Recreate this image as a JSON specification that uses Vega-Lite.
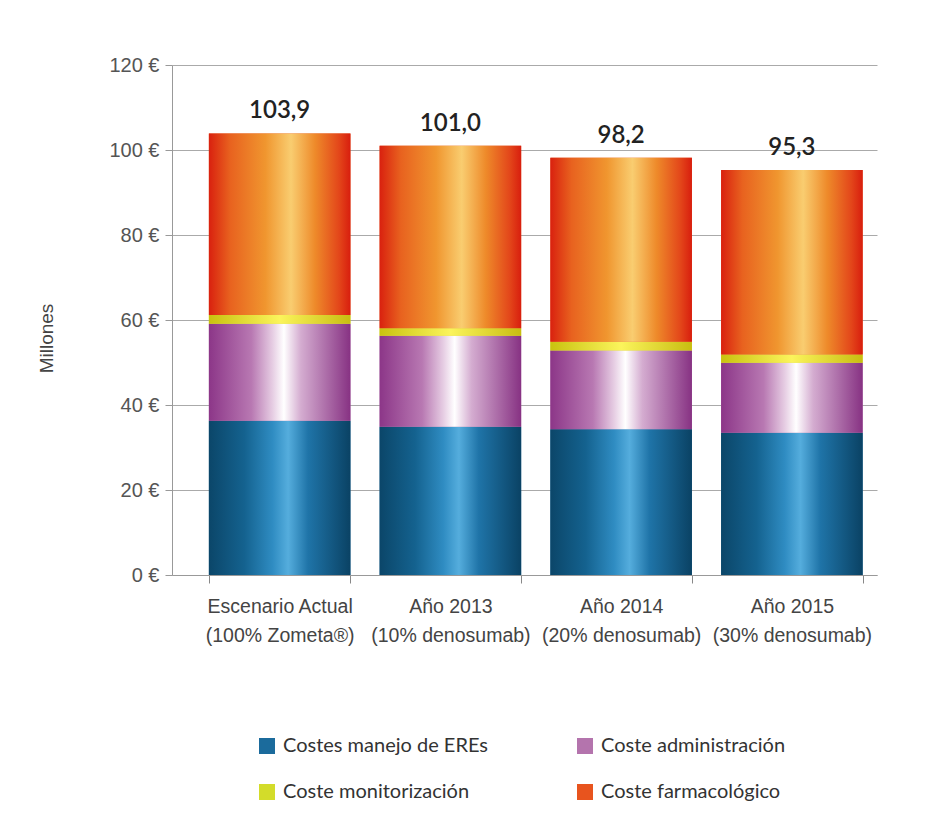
{
  "$schema": "https://vega.github.io/schema/vega-lite/v6.json",
  "autosize": {"type": "none"},
  "width": 705,
  "height": 510,
  "padding": {"left": 172, "top": 65, "right": 68, "bottom": 262},
  "background": "#ffffff",
  "config": {
    "locale": {"number": {"decimal": ",", "thousands": ".", "grouping": [3], "currency": ["", " €"]}},
    "view": {"stroke": null},
    "axis": {"labelFont": "Liberation Sans", "titleFont": "Liberation Sans"}
  },
  "data": {
    "values": [
      {"escenario": "Escenario Actual|(100% Zometa®)", "componente": "Costes manejo de EREs", "orden": 1, "valor": 36.3},
      {"escenario": "Escenario Actual|(100% Zometa®)", "componente": "Coste administración", "orden": 2, "valor": 22.8},
      {"escenario": "Escenario Actual|(100% Zometa®)", "componente": "Coste monitorización", "orden": 3, "valor": 2.1},
      {"escenario": "Escenario Actual|(100% Zometa®)", "componente": "Coste farmacológico", "orden": 4, "valor": 42.7},
      {"escenario": "Año 2013|(10% denosumab)", "componente": "Costes manejo de EREs", "orden": 1, "valor": 34.9},
      {"escenario": "Año 2013|(10% denosumab)", "componente": "Coste administración", "orden": 2, "valor": 21.4},
      {"escenario": "Año 2013|(10% denosumab)", "componente": "Coste monitorización", "orden": 3, "valor": 1.75},
      {"escenario": "Año 2013|(10% denosumab)", "componente": "Coste farmacológico", "orden": 4, "valor": 42.95},
      {"escenario": "Año 2014|(20% denosumab)", "componente": "Costes manejo de EREs", "orden": 1, "valor": 34.3},
      {"escenario": "Año 2014|(20% denosumab)", "componente": "Coste administración", "orden": 2, "valor": 18.5},
      {"escenario": "Año 2014|(20% denosumab)", "componente": "Coste monitorización", "orden": 3, "valor": 2.1},
      {"escenario": "Año 2014|(20% denosumab)", "componente": "Coste farmacológico", "orden": 4, "valor": 43.3},
      {"escenario": "Año 2015|(30% denosumab)", "componente": "Costes manejo de EREs", "orden": 1, "valor": 33.5},
      {"escenario": "Año 2015|(30% denosumab)", "componente": "Coste administración", "orden": 2, "valor": 16.45},
      {"escenario": "Año 2015|(30% denosumab)", "componente": "Coste monitorización", "orden": 3, "valor": 1.95},
      {"escenario": "Año 2015|(30% denosumab)", "componente": "Coste farmacológico", "orden": 4, "valor": 43.4}
    ]
  },
  "transform": [
    {"stack": "valor", "groupby": ["escenario"], "sort": [{"field": "orden", "order": "ascending"}], "as": ["v0", "v1"]}
  ],
  "encoding": {
    "x": {
      "field": "escenario",
      "type": "nominal",
      "sort": ["Escenario Actual|(100% Zometa®)", "Año 2013|(10% denosumab)", "Año 2014|(20% denosumab)", "Año 2015|(30% denosumab)"],
      "scale": {"paddingInner": 0.171, "paddingOuter": 0.15, "align": 0.72},
      "axis": {
        "title": null,
        "labelAngle": 0,
        "labelExpr": "split(datum.label, '|')",
        "labelFontSize": 19.5,
        "labelColor": "#444444",
        "labelPadding": 14,
        "labelLineHeight": 29,
        "tickBand": "extent",
        "tickSize": 8,
        "tickColor": "#888888",
        "domainColor": "#999999",
        "grid": false
      }
    }
  },
  "layer": [
    {
      "mark": {"type": "bar"},
      "encoding": {
        "y": {
          "field": "v1",
          "type": "quantitative",
          "scale": {"domain": [0, 120]},
          "axis": {
            "title": "Millones",
            "titleFontSize": 19,
            "titleFontWeight": "normal",
            "titleColor": "#444444",
            "titleX": -116,
            "titleY": 273,
            "values": [0, 20, 40, 60, 80, 100, 120],
            "labelExpr": "datum.value + ' €'",
            "labelFontSize": 20,
            "labelColor": "#555555",
            "labelPadding": 6,
            "tickSize": 7,
            "tickColor": "#999999",
            "domainColor": "#999999",
            "grid": true,
            "gridColor": "#aaaaaa",
            "gridWidth": 1
          }
        },
        "y2": {"field": "v0"},
        "color": {
          "field": "componente",
          "type": "nominal",
          "scale": {
            "domain": ["Costes manejo de EREs", "Coste administración", "Coste monitorización", "Coste farmacológico"],
            "range": ["#1b6b9c", "#b474ad", "#d3dc2a", "#e8541e"]
          },
          "legend": {
            "title": null,
            "orient": "none",
            "legendX": 85,
            "legendY": 671,
            "columns": 2,
            "direction": "horizontal",
            "columnPadding": 87,
            "rowPadding": 26,
            "symbolType": "square",
            "symbolSize": 256,
            "symbolStrokeWidth": 0,
            "labelFont": "Lato",
            "labelFontSize": 20,
            "labelColor": "#333333",
            "labelOffset": 6,
            "labelLimit": 400
          }
        }
      }
    },
    {
      "transform": [{"filter": "datum.componente === 'Costes manejo de EREs'"}],
      "mark": {
        "type": "bar",
        "fill": {"gradient": "linear", "x1": 0, "y1": 0, "x2": 1, "y2": 0, "stops": [
          {"offset": 0, "color": "#0b4669"},
          {"offset": 0.25, "color": "#14628f"},
          {"offset": 0.45, "color": "#2f8cc2"},
          {"offset": 0.56, "color": "#55addd"},
          {"offset": 0.7, "color": "#1f74a8"},
          {"offset": 1, "color": "#0a4264"}
        ]}
      },
      "encoding": {"y": {"field": "v1", "type": "quantitative"}, "y2": {"field": "v0"}}
    },
    {
      "transform": [{"filter": "datum.componente === 'Coste administración'"}],
      "mark": {
        "type": "bar",
        "fill": {"gradient": "linear", "x1": 0, "y1": 0, "x2": 1, "y2": 0, "stops": [
          {"offset": 0, "color": "#8c3688"},
          {"offset": 0.3, "color": "#b878b2"},
          {"offset": 0.45, "color": "#e6cde3"},
          {"offset": 0.53, "color": "#ffffff"},
          {"offset": 0.65, "color": "#d4acd0"},
          {"offset": 1, "color": "#873283"}
        ]}
      },
      "encoding": {"y": {"field": "v1", "type": "quantitative"}, "y2": {"field": "v0"}}
    },
    {
      "transform": [{"filter": "datum.componente === 'Coste monitorización'"}],
      "mark": {
        "type": "bar",
        "fill": {"gradient": "linear", "x1": 0, "y1": 0, "x2": 1, "y2": 0, "stops": [
          {"offset": 0, "color": "#c9c20f"},
          {"offset": 0.5, "color": "#fbf45c"},
          {"offset": 1, "color": "#c8bd10"}
        ]}
      },
      "encoding": {"y": {"field": "v1", "type": "quantitative"}, "y2": {"field": "v0"}}
    },
    {
      "transform": [{"filter": "datum.componente === 'Coste farmacológico'"}],
      "mark": {
        "type": "bar",
        "fill": {"gradient": "linear", "x1": 0, "y1": 0, "x2": 1, "y2": 0, "stops": [
          {"offset": 0, "color": "#d9210f"},
          {"offset": 0.15, "color": "#e8621f"},
          {"offset": 0.4, "color": "#f0962f"},
          {"offset": 0.58, "color": "#f9cd70"},
          {"offset": 0.75, "color": "#ee8a2a"},
          {"offset": 0.92, "color": "#e3461a"},
          {"offset": 1, "color": "#d81e0e"}
        ]}
      },
      "encoding": {"y": {"field": "v1", "type": "quantitative"}, "y2": {"field": "v0"}}
    },
    {
      "mark": {"type": "text", "baseline": "alphabetic", "dy": -15, "font": "Lato", "fontSize": 24, "fontWeight": 600, "color": "#222222"},
      "encoding": {
        "y": {"aggregate": "sum", "field": "valor", "type": "quantitative"},
        "text": {"aggregate": "sum", "field": "valor", "type": "quantitative", "format": ".1f"}
      }
    }
  ]
}
